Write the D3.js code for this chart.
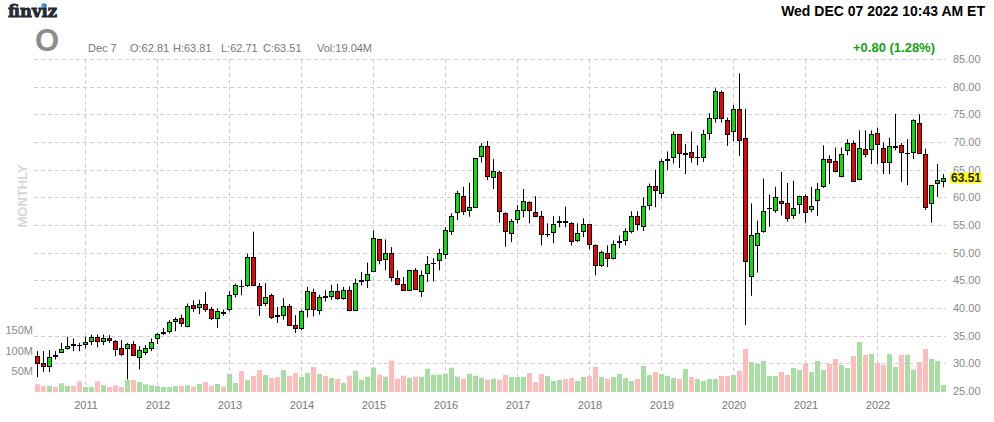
<!DOCTYPE html>
<html><head><meta charset="utf-8">
<script src="https://cdn.jsdelivr.net/npm/d3@7"></script>
<style>
html,body{margin:0;padding:0;background:#fff;}
svg{display:block;font-family:Arial,"Liberation Sans",Helvetica,sans-serif;}
</style></head>
<body>
<svg id="c" width="994" height="422"></svg>
<script>
// ---- data (monthly candles, May 2010 .. Dec 2022) ----
const startMonth = "2010-05";
const yearLabels = ["2011","2012","2013","2014","2015","2016","2017","2018","2019","2020","2021","2022"];
const priceTicks = [25,30,35,40,45,50,55,60,65,70,75,80,85];
const volumeTicks = [50,100,150];
const opens = [31.3,30.1,29.5,31.5,32.1,32.7,33.5,33.4,33.5,34.0,34.8,34.0,34.6,34.0,32.7,32.8,33.5,31.1,32.1,32.8,
34.5,35.5,35.8,37.7,38.2,36.7,40.5,40.2,40.8,39.9,38.2,39.2,39.8,42.5,44.0,44.1,49.2,43.9,40.9,42.3,
38.7,38.7,40.3,36.9,36.4,39.8,42.9,39.6,42.1,42.1,43.0,41.8,43.3,39.7,44.9,45.1,46.7,52.5,48.8,50.0,
45.4,44.4,43.3,46.8,43.1,46.3,48.1,48.6,49.8,54.0,57.4,60.2,57.7,58.3,67.5,69.3,63.7,64.6,57.1,53.5,
56.0,57.7,59.1,57.3,56.6,53.3,53.7,55.6,55.7,55.3,52.2,53.9,55.1,51.3,47.7,49.9,49.0,52.0,52.2,53.9,
56.6,54.9,58.6,62.1,60.8,66.8,67.2,71.4,67.9,68.2,67.2,67.3,71.7,74.4,79.1,74.0,71.9,76.0,70.8,45.8,
51.4,53.9,58.0,57.7,59.4,59.0,56.8,58.8,60.2,57.9,59.5,62.0,67.0,66.5,63.8,68.5,69.9,63.3,68.7,68.7,
71.7,69.0,66.3,69.1,69.5,68.0,68.2,73.5,67.9,58.9,62.6,62.9];
const highs = [32.2,32.2,32.4,32.2,33.7,34.8,34.5,33.7,34.8,35.2,35.2,35.2,35.1,34.2,34.2,33.7,34.0,33.1,33.3,34.5,
35.5,36.4,37.8,38.3,38.8,40.8,41.4,41.5,42.9,40.2,39.9,39.7,43.0,44.4,45.1,49.8,53.8,44.5,44.5,42.6,
40.2,41.8,40.7,38.7,39.7,43.8,43.5,42.4,43.2,44.2,44.4,43.8,43.9,45.3,46.5,48.2,54.0,52.5,52.4,51.0,
46.8,45.6,46.9,47.2,46.8,49.4,49.0,50.7,54.6,57.1,61.2,61.9,62.6,67.1,69.8,70.2,66.9,64.8,57.3,56.1,
58.6,61.5,59.3,60.2,57.5,55.3,56.6,56.6,58.3,55.5,55.3,56.2,55.1,51.5,50.4,51.3,52.2,53.1,54.4,57.5,
57.5,60.0,62.5,65.0,66.9,68.3,71.9,71.4,69.6,71.9,69.4,72.2,75.2,79.7,79.3,74.4,76.7,82.4,76.0,58.9,
55.8,63.4,60.5,61.9,64.6,62.6,63.0,60.3,60.5,61.9,62.6,69.4,67.6,69.0,69.0,70.5,70.3,72.1,72.1,72.1,
72.6,69.9,70.8,75.1,69.8,70.5,74.1,75.0,68.8,62.2,66.0,64.2];
const lows = [27.5,28.4,28.4,30.7,31.9,32.5,32.2,32.2,32.7,33.3,32.9,33.3,33.7,31.3,31.3,27.1,31.3,28.9,31.5,32.2,
33.5,35.1,35.4,35.8,36.6,36.5,39.3,38.9,39.3,37.8,36.4,38.6,39.4,41.9,42.3,43.8,44.1,38.6,40.3,38.0,
37.3,37.9,36.8,35.5,36.0,38.3,38.5,38.8,41.2,41.5,41.5,41.5,39.4,39.6,44.1,43.6,46.7,47.9,46.8,44.8,
44.1,43.1,43.1,43.3,42.0,44.7,44.8,46.8,48.9,53.2,55.9,56.8,56.5,58.3,66.3,63.1,61.5,55.4,51.1,51.9,
55.3,56.4,55.3,56.4,51.3,52.8,51.7,54.6,54.6,51.3,51.9,52.8,50.6,45.9,47.4,47.4,48.8,50.8,51.3,53.5,
54.0,53.9,57.7,58.2,59.8,64.9,66.1,65.3,64.2,66.3,65.8,66.4,70.4,73.5,73.5,69.3,70.1,67.5,36.9,42.2,
46.4,53.6,54.7,57.2,56.7,55.6,56.1,57.0,55.4,57.3,56.6,61.7,62.4,64.5,63.6,67.6,62.9,63.1,67.2,66.0,
66.0,64.2,64.2,68.5,62.8,62.2,66.9,67.9,57.7,55.4,60.1,61.8];
const closes = [30.1,29.5,31.2,31.3,32.6,33.1,33.3,33.3,33.9,34.8,34.0,34.5,34.3,32.6,31.7,33.5,31.5,32.5,32.8,33.9,
35.3,35.6,37.5,38.0,37.3,40.4,40.0,40.8,39.8,38.2,39.4,39.1,42.3,44.1,43.9,49.3,44.1,40.6,41.9,38.3,
38.6,40.3,37.0,36.3,39.4,43.1,39.8,42.0,42.0,43.0,41.8,43.3,39.7,44.5,45.0,46.2,52.7,48.7,50.0,45.6,
44.4,43.3,46.8,43.4,46.0,48.0,48.2,50.0,54.1,56.6,60.7,57.5,58.3,67.1,69.3,63.9,64.8,57.5,53.9,55.7,
57.7,59.3,57.8,56.6,53.3,53.4,55.1,55.7,55.6,52.1,53.5,55.1,51.5,47.7,50.1,49.0,51.5,52.1,54.0,56.7,
55.1,58.4,62.0,61.3,66.6,66.9,71.4,68.1,68.0,67.2,67.3,71.5,74.4,79.3,74.4,71.5,76.0,70.4,48.5,53.2,
53.6,57.6,58.1,60.1,59.0,56.3,58.1,60.3,57.4,58.5,61.5,66.9,66.3,64.7,67.9,69.9,62.9,69.0,67.9,71.5,
69.6,66.3,69.2,69.2,68.2,68.1,73.9,68.1,58.3,62.2,63.1,63.51];
const volumes = [18.6,14.5,14.5,12.1,21,14.5,14.5,25.8,12.1,12.1,25.8,17,12.1,16.1,12.1,29,29,24.2,18.6,16.1,
14.5,12.1,12.1,14.5,14.5,16.1,12.8,19.4,24.2,15.3,19.4,12.8,44.3,21.8,50.8,29,38.7,53.3,41.2,33.9,
36.3,53.3,38.7,46,36.3,46,60.5,43.6,38.7,33.9,31.5,22,39.5,51.6,29.8,37.1,58.8,41.9,37.1,75.8,
32.2,39.5,34.6,37.1,37.1,56.4,41.9,41.9,44.3,58.8,37.1,32.2,44.3,39.5,34.6,29.8,32.2,29.8,41.2,36.3,
36.3,36.3,46,24.2,43.6,38.7,26.6,29,31.5,33.9,26.6,36.3,38.7,60.5,36.3,31.5,36.3,43.6,33.9,26.6,
31.5,63,41.2,48.4,43.6,38.7,33.9,31.5,55.7,36.3,31.5,26.6,31.5,31.5,38.7,38.7,41.2,50.8,104,72.6,
67.8,75,38.7,38.7,48.4,41.2,58,53.3,67.8,48.4,75,53.3,67.8,80,65.4,58,87,121,89.6,92,
70.2,65.4,92,60.5,89.6,89.6,54,72.6,104,80,75,17];

// ---- build ----
const svg = d3.select("#c");
const parse = d3.timeParse("%Y-%m");
const fmt = d3.timeFormat("%Y-%m");
const m0 = parse(startMonth);
const months = d3.timeMonth.range(m0, d3.timeMonth.offset(m0, opens.length)).map(fmt);
const data = months.map((m,i)=>({m, o:opens[i], h:highs[i], l:lows[i], c:closes[i], v:volumes[i]}));

const x = d3.scalePoint().domain(months).range([37.5, 943.5]);
const y = d3.scaleLinear().domain([25,85]).range([391,59]);
const yv = d3.scaleLinear().domain([0,150]).range([392,330]);

const gridColor = "#cfcfcf";
// horizontal grid
svg.append("g").selectAll("line").data(priceTicks.filter(p=>p>25)).join("line")
  .attr("x1",34).attr("x2",946)
  .attr("y1",d=>Math.round(y(d))+0.5).attr("y2",d=>Math.round(y(d))+0.5)
  .attr("stroke",gridColor).attr("stroke-dasharray","4,3");
// vertical grid at January
const janMonths = months.filter(m=>m.endsWith("-01"));
svg.append("g").selectAll("line").data(janMonths).join("line")
  .attr("x1",d=>x(d)).attr("x2",d=>x(d)).attr("y1",59).attr("y2",392)
  .attr("stroke",gridColor).attr("stroke-dasharray","4,3");

// volume bars
svg.append("g").selectAll("rect").data(data).join("rect")
  .attr("x",d=>x(d.m)-2.5).attr("width",5)
  .attr("y",d=>yv(d.v)).attr("height",d=>yv(0)-yv(d.v))
  .attr("fill",d=>d.c>=d.o?"#a8dea4":"#ffbcbc");

// wicks
const cg = svg.append("g");
cg.selectAll("line").data(data).join("line")
  .attr("x1",d=>x(d.m)).attr("x2",d=>x(d.m))
  .attr("y1",d=>y(d.h)).attr("y2",d=>y(d.l))
  .attr("stroke","#000").attr("stroke-width",1);
// bodies
cg.selectAll("rect").data(data).join("rect")
  .attr("x",d=>x(d.m)-2).attr("width",4)
  .attr("y",d=>Math.round(y(Math.max(d.o,d.c)))+0.5)
  .attr("height",d=>Math.max(0.01, Math.round(y(Math.min(d.o,d.c)))-Math.round(y(Math.max(d.o,d.c)))))
  .attr("fill",d=>d.c>=d.o?"#00e600":"#f00000")
  .attr("stroke","#000").attr("stroke-width",1);

// right price axis
const ax = svg.append("g").attr("transform","translate(952,0)")
  .call(d3.axisRight(y).tickValues(priceTicks).tickFormat(d3.format(".2f")).tickSize(0).tickPadding(1));
ax.select(".domain").remove();
ax.selectAll("text").attr("fill","#8a8a8a").attr("font-size",11).attr("font-family","Arial, 'Liberation Sans', sans-serif");

// volume axis labels
const vax = svg.append("g").attr("transform","translate(34,0)")
  .call(d3.axisLeft(yv).tickValues(volumeTicks).tickFormat(d=>d+"M").tickSize(0).tickPadding(1));
vax.select(".domain").remove();
vax.selectAll("text").attr("fill","#8a8a8a").attr("font-size",11).attr("font-family","Arial, 'Liberation Sans', sans-serif");

// year axis
const xax = svg.append("g").attr("transform","translate(0,398)")
  .call(d3.axisBottom(x).tickValues(janMonths).tickFormat((d,i)=>yearLabels[i]).tickSize(0).tickPadding(3));
xax.select(".domain").remove();
xax.selectAll("text").attr("fill","#777").attr("font-size",11).attr("font-family","Arial, 'Liberation Sans', sans-serif");

// current price label
const last = data[data.length-1];
svg.append("rect").attr("x",950).attr("y",Math.round(y(last.c))-5.5).attr("width",32).attr("height",11).attr("fill","#ffff10");
svg.append("text").attr("x",966).attr("y",y(last.c)+4.5).attr("text-anchor","middle")
  .attr("font-size",12).attr("font-weight","bold").attr("fill","#222").text(last.c.toFixed(2));

// MONTHLY
svg.append("text").attr("transform","translate(27,196) rotate(-90)").attr("text-anchor","middle")
  .attr("font-size",13).attr("font-weight","bold").attr("fill","#d6d6d6").text("MONTHLY");

// header
svg.append("text").attr("x",8).attr("y",17).attr("font-family","'DejaVu Serif', Georgia, serif")
  .attr("font-size",17).attr("font-weight","bold").attr("fill","#262a36")
  .attr("stroke","#262a36").attr("stroke-width",0.9)
  .attr("textLength",49).attr("lengthAdjust","spacingAndGlyphs").text("finviz");
svg.append("circle").attr("cx",43.5).attr("cy",5.5).attr("r",2.2).attr("fill","#3d9be9");
svg.append("text").attr("x",35).attr("y",51).attr("font-size",31).attr("font-weight","bold").attr("fill","#8c8c8c").text("O");
const hdr = [["Dec 7",88],["O:62.81",130],["H:63.81",173],["L:62.71",221],["C:63.51",263],["Vol:19.04M",317]];
svg.append("g").selectAll("text").data(hdr).join("text")
  .attr("x",d=>d[1]).attr("y",52).attr("font-size",11).attr("fill","#777").text(d=>d[0]);
svg.append("text").attr("x",985).attr("y",16).attr("text-anchor","end").attr("font-size",14)
  .attr("font-weight","bold").attr("fill","#000").text("Wed DEC 07 2022 10:43 AM ET");
svg.append("text").attr("x",935).attr("y",52).attr("text-anchor","end").attr("font-size",13)
  .attr("font-weight","bold").attr("fill","#14a114").text("+0.80 (1.28%)");
</script>
</body></html>
